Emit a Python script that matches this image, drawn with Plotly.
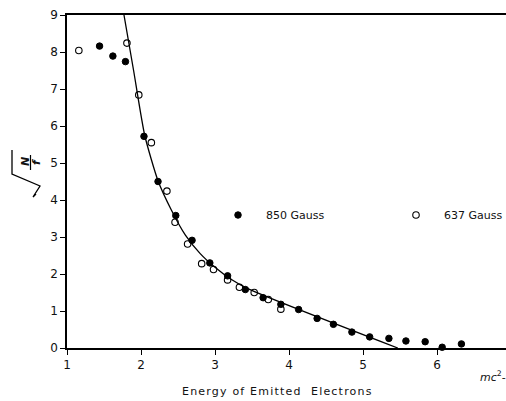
import plotly.graph_objects as go

# ---- data ----
x_850 = [1.44, 1.62, 1.79, 2.04, 2.23, 2.47, 2.69, 2.93, 3.17, 3.41, 3.65, 3.89, 4.13, 4.38, 4.60, 4.85, 5.09, 5.35, 5.58, 5.84, 6.07, 6.33]
y_850 = [8.16, 7.89, 7.74, 5.72, 4.50, 3.58, 2.91, 2.30, 1.95, 1.58, 1.36, 1.18, 1.04, 0.80, 0.64, 0.43, 0.30, 0.26, 0.19, 0.17, 0.02, 0.11]

x_637 = [1.16, 1.81, 1.97, 2.14, 2.35, 2.46, 2.63, 2.82, 2.98, 3.17, 3.33, 3.53, 3.72, 3.89]
y_637 = [8.04, 8.24, 6.84, 5.55, 4.24, 3.40, 2.81, 2.28, 2.12, 1.84, 1.64, 1.50, 1.31, 1.05]

x_fit = [1.77, 1.90, 2.05, 2.23, 2.41, 2.60, 2.80, 3.00, 3.20, 3.45, 5.47]
y_fit = [9.00, 7.50, 5.75, 4.52, 3.73, 3.05, 2.55, 2.18, 1.88, 1.60, 0.00]

x_ticks = [1, 2, 3, 4, 5, 6]
y_ticks = [0, 1, 2, 3, 4, 5, 6, 7, 8, 9]

# ---- layout geometry (pixels) ----
W, H = 506, 401
L, R, T, B = 67, 0, 15, 53
PW, PH = W - L - R, H - T - B
PX_PER_X = 74.0


def px(x):
    return (x - L) / PW


def py(y):
    return (H - B - y) / PH


FONT = "DejaVu Sans"

fig = go.Figure()

fig.add_trace(go.Scatter(
    x=x_fit, y=y_fit, mode="lines", line=dict(color="black", width=1.3, shape="spline", smoothing=0.6),
    showlegend=False, hoverinfo="skip", cliponaxis=True))

fig.add_trace(go.Scatter(
    x=x_850, y=y_850, mode="markers", name="850 Gauss", legend="legend",
    marker=dict(symbol="circle", size=6.5, color="black", line=dict(color="black", width=1)),
    cliponaxis=False))

fig.add_trace(go.Scatter(
    x=x_637, y=y_637, mode="markers", name="637 Gauss", legend="legend2",
    marker=dict(symbol="circle-open", size=6.5, color="black", line=dict(color="black", width=1.1)),
    cliponaxis=False))

axis_common = dict(
    showgrid=False, zeroline=False, showline=True, linecolor="black", linewidth=1.5,
    ticks="outside", tickcolor="black", tickwidth=1.3,
    tickfont=dict(family=FONT, size=12, color="#111"),
)

fig.update_xaxes(range=[1, 1 + PW / PX_PER_X], tickvals=x_ticks, ticklen=5, mirror=True, **axis_common)
fig.update_yaxes(range=[0, 9], tickvals=y_ticks, ticklen=5, **axis_common)

annotations = [
    dict(text="<span style='letter-spacing:1.2px'>Energy of Emitted  Electrons</span>",
         x=px(277), y=py(391), xref="paper", yref="paper",
         showarrow=False, font=dict(family=FONT, size=11, color="#111"), xanchor="center", yanchor="middle"),
    dict(text="<i>mc</i><sup>2</sup>-", x=px(478), y=py(376), xref="paper", yref="paper",
         showarrow=False, font=dict(family=FONT, size=11, color="#111"), xanchor="left", yanchor="middle"),
    dict(text="<b><i>N</i></b>", x=px(25), y=py(162), xref="paper", yref="paper", textangle=-90,
         showarrow=False, font=dict(family=FONT, size=11, color="#111"), xanchor="center", yanchor="middle"),
    dict(text="<b><i>f</i></b>", x=px(36), y=py(162), xref="paper", yref="paper", textangle=-90,
         showarrow=False, font=dict(family=FONT, size=11, color="#111"), xanchor="center", yanchor="middle"),
]

# radical sign of the y-axis label (rotated sqrt(N/f))
rad = [(12, 150), (12, 174), (40, 186), (33, 197), (36, 194)]
path = "M " + " L ".join(f"{px(a):.5f},{py(b):.5f}" for a, b in rad)
shapes = [
    dict(type="path", path=path, xref="paper", yref="paper", line=dict(color="black", width=1.3)),
    dict(type="line", x0=px(30.5), x1=px(30.5), y0=py(155), y1=py(170), xref="paper", yref="paper",
         line=dict(color="black", width=1.2)),
]

leg_common = dict(orientation="h", xanchor="left", yanchor="middle",
                  font=dict(family=FONT, size=11, color="#111"), bgcolor="rgba(0,0,0,0)",
                  itemclick=False, borderwidth=0, itemwidth=46)

fig.update_layout(
    width=W, height=H,
    margin=dict(l=L, r=R, t=T, b=B, pad=0, autoexpand=False),
    paper_bgcolor="white", plot_bgcolor="white",
    annotations=annotations, shapes=shapes,
    showlegend=True,
    legend=dict(x=px(210), y=py(215), **leg_common),
    legend2=dict(x=px(388), y=py(215), **leg_common),
)

fig.write_html("out.html")
